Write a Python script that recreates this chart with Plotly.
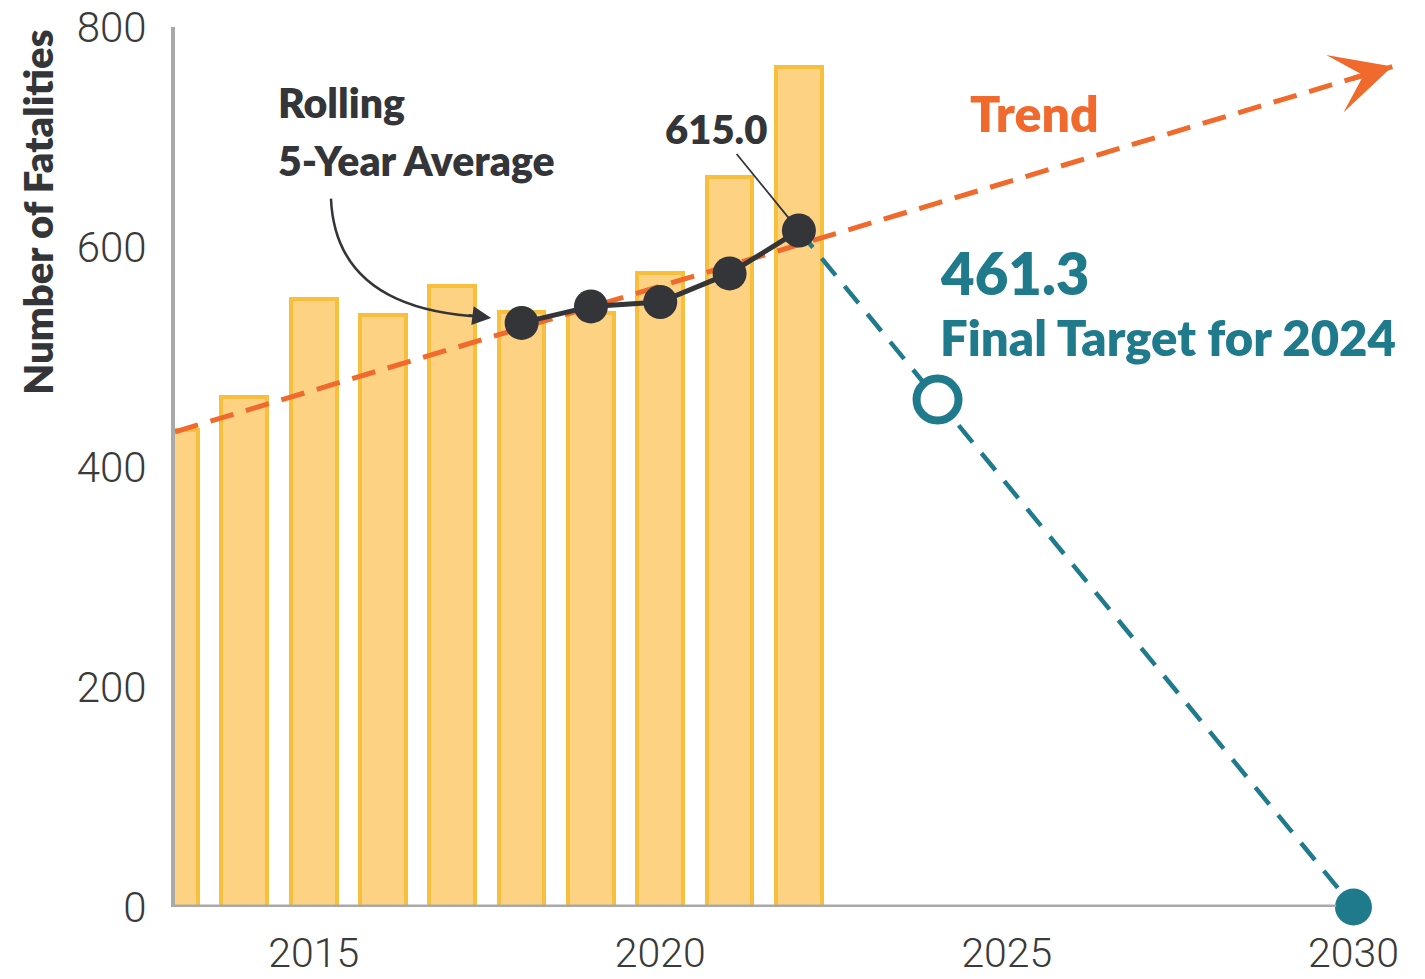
import plotly.graph_objects as go

# ---- data ----
years = [2013, 2014, 2015, 2016, 2017, 2018, 2019, 2020, 2021, 2022]
fatalities = [434, 464, 553, 538, 565, 541, 540, 576, 664, 764]

roll_years = [2018, 2019, 2020, 2021, 2022]
roll_avg = [531, 546, 550, 576, 615.0]

trend_x = [2013, 2030.56]
trend_y = [432, 764]

target_x = [2022, 2024, 2030]
target_y = [615.0, 461.3, 0]

x_ticks = [2015, 2020, 2025, 2030]
y_ticks = [0, 200, 400, 600, 800]

# ---- styles ----
BAR_FILL = "#FDD283"
BAR_LINE = "#F8BF3C"
ORANGE = "#EF6A2C"
TEAL = "#1F7A8C"
DARK = "#333538"
AXIS = "#A9A9A9"
BOLD_FONT = "Lato, Roboto, sans-serif"
TICK_FONT = "Roboto, sans-serif"
BW = 800

fig = go.Figure()

fig.add_trace(go.Bar(
    x=years, y=fatalities, width=0.66,
    marker=dict(color=BAR_FILL, line=dict(color=BAR_LINE, width=4)),
    hoverinfo="x+y", showlegend=False,
))

fig.add_trace(go.Scatter(
    x=trend_x, y=trend_y, mode="lines",
    line=dict(color=ORANGE, width=5, dash="24px,13px"),
    showlegend=False, hoverinfo="skip",
))

fig.add_trace(go.Scatter(
    x=target_x, y=target_y, mode="lines",
    line=dict(color=TEAL, width=4.5, dash="22px,14px"),
    showlegend=False, hoverinfo="skip",
))

fig.add_trace(go.Scatter(
    x=roll_years, y=roll_avg, mode="lines+markers",
    line=dict(color=DARK, width=5),
    marker=dict(color=DARK, size=34),
    showlegend=False, cliponaxis=False,
))

fig.add_trace(go.Scatter(
    x=[target_x[1]], y=[target_y[1]], mode="markers",
    marker=dict(color="white", size=42, line=dict(color=TEAL, width=8)),
    showlegend=False, cliponaxis=False,
))
fig.add_trace(go.Scatter(
    x=[target_x[2]], y=[target_y[2]], mode="markers",
    marker=dict(color=TEAL, size=37),
    showlegend=False, cliponaxis=False,
))

# x baseline (stops at 2030)
fig.add_shape(type="line", xref="x", yref="y", x0=2013, x1=2029.75, y0=0, y1=0,
              line=dict(color=AXIS, width=5), layer="above")

# curved arrow for rolling average label
fig.add_shape(type="path", xref="x", yref="y",
              path="M 2015.25,644 Q 2015.32,543 2017.45,536.5",
              line=dict(color=DARK, width=2.5))

annotations = [
    dict(x=2017.56, y=535.5, xref="x", yref="y", text="", showarrow=True,
         ax=-24, ay=-3, arrowhead=2, arrowsize=1.5, arrowwidth=2.5, arrowcolor=DARK),
    dict(x=2014.46, y=731, xref="x", yref="y", text="Rolling", showarrow=False,
         xanchor="left", yanchor="middle", font=dict(family=BOLD_FONT, size=41, color=DARK, weight=BW)),
    dict(x=2014.46, y=679, xref="x", yref="y", text="5-Year Average", showarrow=False,
         xanchor="left", yanchor="middle", font=dict(family=BOLD_FONT, size=41, color=DARK, weight=BW)),
    dict(x=roll_years[-1], y=roll_avg[-1], xref="x", yref="y", text=f"{roll_avg[-1]:.1f}",
         showarrow=True, ax=-83, ay=-102, arrowhead=0, arrowwidth=1.8, arrowcolor=DARK,
         standoff=16, font=dict(family=BOLD_FONT, size=40, color=DARK, weight=BW)),
    dict(x=2025.4, y=722, xref="x", yref="y", text="Trend", showarrow=False,
         font=dict(family=BOLD_FONT, size=50, color=ORANGE, weight=BW)),
    dict(x=trend_x[1], y=trend_y[1], xref="x", yref="y", axref="x", ayref="y",
         ax=trend_x[1] - 0.6, ay=trend_y[1] - 0.6 * (trend_y[1] - trend_y[0]) / (trend_x[1] - trend_x[0]),
         text="", showarrow=True, arrowhead=3, arrowsize=2.0, arrowwidth=5, arrowcolor=ORANGE),
    dict(x=target_x[1], y=577, xref="x", yref="y", text=f"{target_y[1]:.1f}", showarrow=False,
         xanchor="left", yanchor="middle", font=dict(family=BOLD_FONT, size=58, color=TEAL, weight=BW)),
    dict(x=target_x[1], y=518, xref="x", yref="y", text="Final Target for 2024", showarrow=False,
         xanchor="left", yanchor="middle", font=dict(family=BOLD_FONT, size=49, color=TEAL, weight=BW)),
    dict(x=-0.1117, y=0.79, xref="paper", yref="paper", text="Number of Fatalities",
         showarrow=False, textangle=-90, xanchor="center", yanchor="middle",
         font=dict(family=BOLD_FONT, size=40, color=DARK, weight=BW)),
]

# page body has an 8px default margin: size the figure to fit the 1425x979 window
fig.update_layout(
    width=1417, height=971,
    margin=dict(l=167, r=23, t=19, b=72, autoexpand=False),
    plot_bgcolor="white", paper_bgcolor="white",
    annotations=annotations,
    bargap=0,
    xaxis=dict(range=[2013, 2030.7], tickvals=x_ticks, ticktext=[str(v) for v in x_ticks],
               showgrid=False, zeroline=False, showline=False, ticks="", automargin=False,
               ticklabelstandoff=18, ticklabeloverflow="allow",
               tickfont=dict(family=TICK_FONT, size=41, color="#3A3A3A", weight=300)),
    yaxis=dict(range=[0, 800], tickvals=y_ticks, showgrid=False, zeroline=False,
               showline=True, linecolor=AXIS, linewidth=4, ticks="", automargin=False,
               ticklabelstandoff=16, ticklabeloverflow="allow",
               tickfont=dict(family=TICK_FONT, size=42, color="#3A3A3A", weight=300)),
)

fig.write_html("out.html")
